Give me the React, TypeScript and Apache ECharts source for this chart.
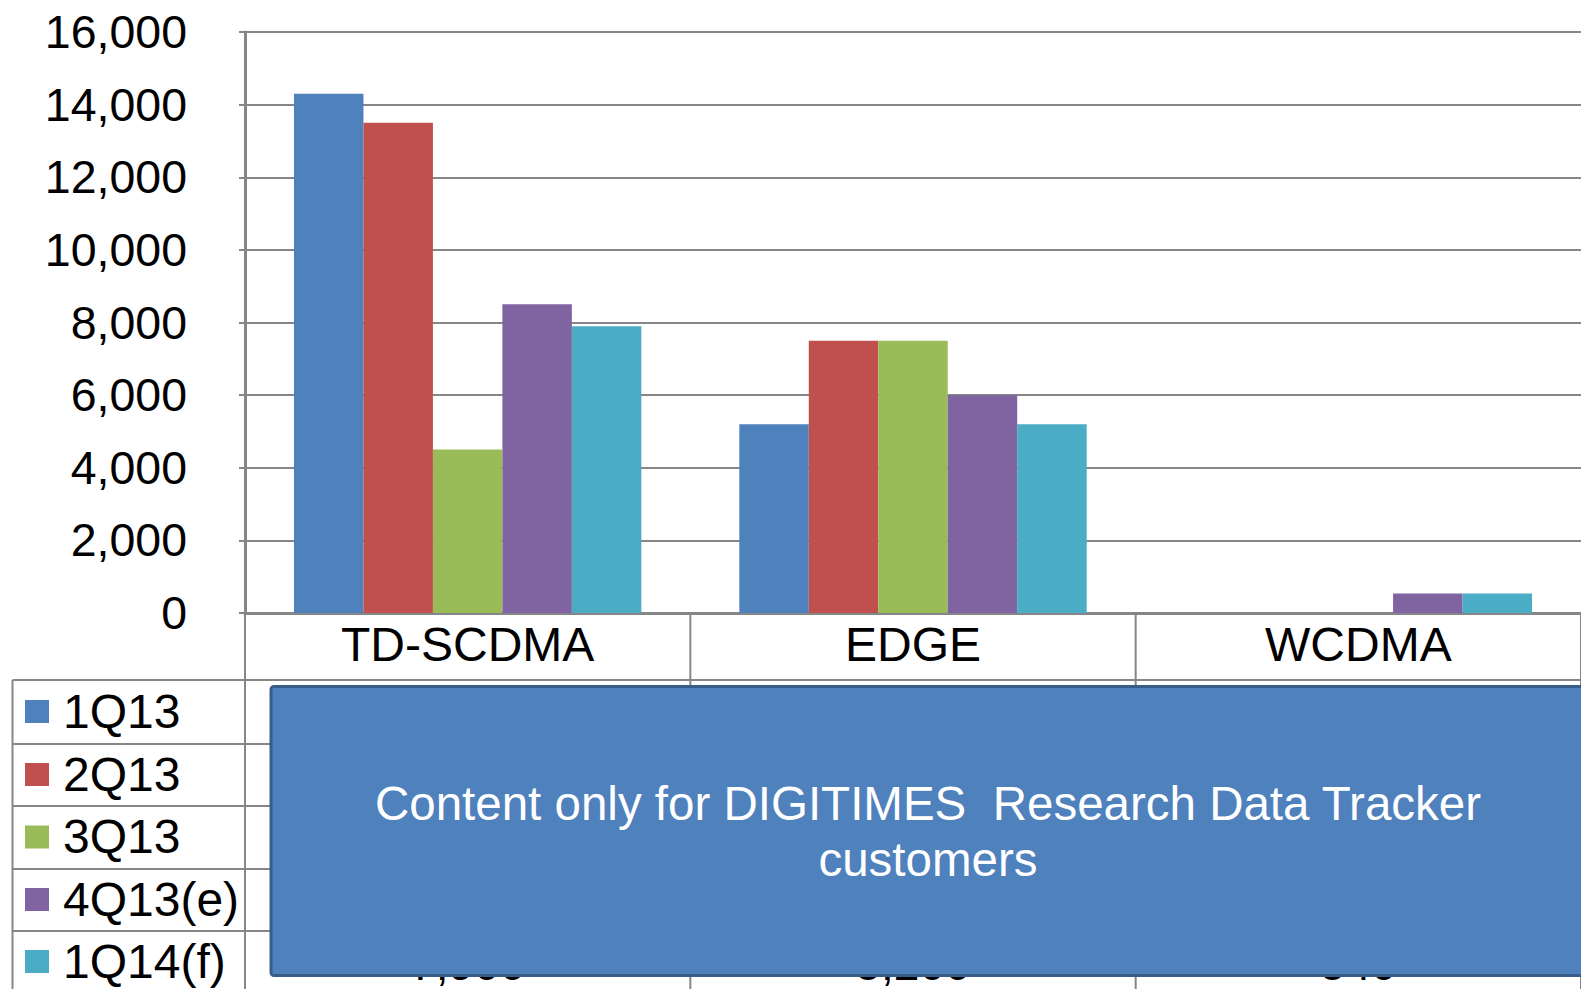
import React, { useEffect, useRef } from "react";
import * as echarts from "echarts";

const categories = ["TD-SCDMA", "EDGE", "WCDMA"];
const seriesNames = ["1Q13", "2Q13", "3Q13", "4Q13(e)", "1Q14(f)"];
const q1_13 = [14300, 5200, null];
const q2_13 = [13500, 7500, null];
const q3_13 = [4500, 7500, null];
const q4_13e = [8500, 6000, 540];
const q1_14f = [7900, 5200, 540];
const seriesValues = [q1_13, q2_13, q3_13, q4_13e, q1_14f];
const colors = ["#4F81BD", "#C0504D", "#9BBB59", "#8064A2", "#4BACC6"];
const yMin = 0;
const yMax = 16000;
const yInterval = 2000;
const overlayLines = ["Content only for DIGITIMES  Research Data Tracker", "customers"];

const FONT = "'Liberation Sans', Arial, Helvetica, sans-serif";
const GRAY = "#868686";

const fmt = (v: number | null) => (v == null ? "" : v.toLocaleString("en-US"));

export default function App() {
  const ref = useRef<HTMLDivElement>(null);
  useEffect(() => {
    if (!ref.current) return;
    const chart = echarts.init(ref.current, null, { renderer: "svg" });
    const axisBottom = 613;
    chart.setOption({
      animation: false,
      grid: { left: 245, top: 32, right: -5, bottom: 989 - axisBottom },
      xAxis: {
        type: "category",
        data: categories,
        axisLine: { show: true, lineStyle: { color: GRAY, width: 3 } },
        axisTick: { show: false },
        axisLabel: { fontSize: 48, color: "#000", fontFamily: FONT, margin: 7, lineHeight: 48 },
      },
      yAxis: {
        type: "value",
        min: yMin,
        max: yMax,
        interval: yInterval,
        axisLine: { show: true, lineStyle: { color: GRAY, width: 3 } },
        axisTick: { show: true, length: 6, lineStyle: { color: GRAY, width: 2 } },
        splitLine: { show: true, lineStyle: { color: GRAY, width: 2 } },
        axisLabel: {
          fontSize: 46.5,
          color: "#000",
          fontFamily: FONT,
          margin: 58,
          padding: [0, 0, 7, 0],
          formatter: (v: number) => v.toLocaleString("en-US"),
        },
      },
      series: seriesNames.map((name, i) => ({
        name,
        type: "bar",
        data: seriesValues[i],
        barGap: "0%",
        barCategoryGap: "22%",
        itemStyle: { color: colors[i] },
      })),
    });

    const centers = categories.map((c) => chart.convertToPixel({ xAxisIndex: 0 }, c) as number);
    const half = (centers[1] - centers[0]) / 2;
    const bounds = [centers[0] - half, ...centers.map((c) => c + half)];
    const tableLeft = 12.5;
    const headerBottom = 680;
    const rowLines = [744, 806, 869, 931];
    const rowEdges = [headerBottom, ...rowLines, 993];
    const W = 1581;
    const H = 989;
    const elements: any[] = [];
    const line = (x1: number, y1: number, x2: number, y2: number) => ({
      type: "line",
      shape: { x1, y1, x2, y2 },
      style: { stroke: GRAY, lineWidth: 2 },
      z: 1,
    });
    bounds.forEach((b) => elements.push(line(b, axisBottom, b, H)));
    elements.push(line(tableLeft, headerBottom, W, headerBottom));
    elements.push(line(tableLeft, headerBottom, tableLeft, H));
    rowLines.forEach((y) => elements.push(line(tableLeft, y, W, y)));
    seriesNames.forEach((name, r) => {
      const cy = (rowEdges[r] + rowEdges[r + 1]) / 2;
      elements.push({
        type: "rect",
        shape: { x: 25, y: cy - 12, width: 24, height: 23 },
        style: { fill: colors[r] },
        z: 2,
      });
      elements.push({
        type: "text",
        x: 63,
        y: cy - 1,
        style: { text: name, fill: "#000", font: `48px ${FONT}`, textAlign: "left", textVerticalAlign: "middle" },
        z: 2,
      });
      // Only the last row of table values peeks out below the overlay
      if (r !== seriesNames.length - 1) return;
      categories.forEach((c, i) => {
        const v = seriesValues[r][i];
        if (v == null) return;
        elements.push({
          type: "text",
          x: centers[i],
          y: cy + 2,
          style: { text: fmt(v), fill: "#000", font: `46px ${FONT}`, textAlign: "center", textVerticalAlign: "middle" },
          z: 2,
        });
      });
    });
    elements.push({
      type: "rect",
      shape: { x: 271, y: 686.5, width: 1320, height: 289, r: 3 },
      style: { fill: "#4F81BD", stroke: "#385D8A", lineWidth: 3 },
      z: 10,
    });
    overlayLines.forEach((t, i) => {
      elements.push({
        type: "text",
        x: 928,
        y: 803 + i * 56,
        style: { text: t, fill: "#fff", font: `47.5px ${FONT}`, textAlign: "center", textVerticalAlign: "middle" },
        z: 11,
      });
    });
    chart.setOption({ graphic: { elements } });
    return () => chart.dispose();
  }, []);
  return <div ref={ref} style={{ position: "absolute", left: 0, top: 0, width: 1581, height: 989, background: "#fff" }} />;
}
